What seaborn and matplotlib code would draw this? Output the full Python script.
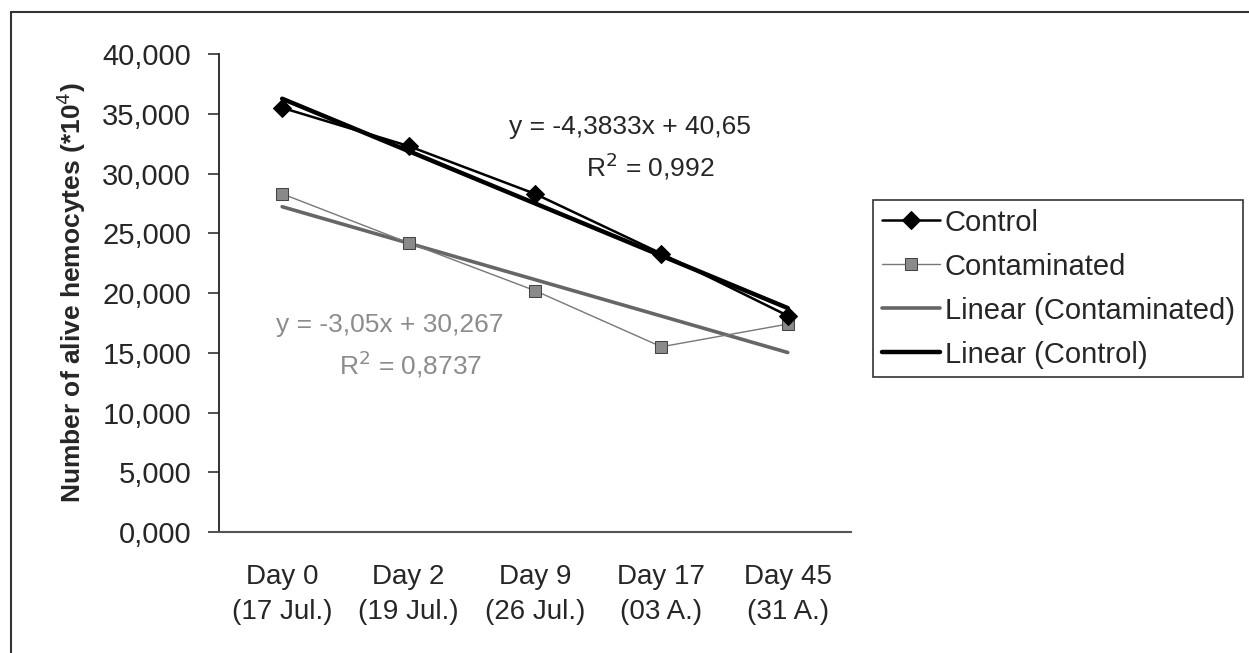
import numpy as np
import pandas as pd
import matplotlib
matplotlib.use("Agg")
import matplotlib.pyplot as plt
import matplotlib.patches as mpatches
import seaborn as sns

# data (values in *10^4, comma decimals on the axis)
days = ["Day 0\n(17 Jul.)", "Day 2\n(19 Jul.)", "Day 9\n(26 Jul.)",
        "Day 17\n(03 A.)", "Day 45\n(31 A.)"]
control = [35.5, 32.3, 28.3, 23.3, 18.1]
contaminated = [28.3, 24.2, 20.2, 15.5, 17.4]
eq_control = ["y = -4,3833x + 40,65", "R$^2$ = 0,992"]
eq_contam = ["y = -3,05x + 30,267", "R$^2$ = 0,8737"]

df = pd.DataFrame({"pos": np.arange(len(days)), "control": control,
                   "contaminated": contaminated})

sns.set_style("white")
plt.rcParams["font.family"] = ["Liberation Sans", "DejaVu Sans"]

fig = plt.figure(figsize=(12.49, 6.53), dpi=100)
ax = fig.add_axes([0.1753, 0.1853, 0.506, 0.732])

# outer chart frame (only left and top edge visible in the scan)
fig.patches.append(mpatches.Rectangle((0.009, -0.1), 1.2, 1.082,
                                      transform=fig.transFigure, fill=False,
                                      edgecolor="#333333", linewidth=1.5))

sns.regplot(data=df, x="pos", y="contaminated", ax=ax, scatter=False, ci=None,
            label="Linear (Contaminated)", line_kws=dict(color="#666666", lw=2.6))
sns.regplot(data=df, x="pos", y="control", ax=ax, scatter=False, ci=None,
            label="Linear (Control)", line_kws=dict(color="black", lw=3.2))
sns.lineplot(data=df, x="pos", y="contaminated", ax=ax, color="#777777", lw=1.0,
             marker="s", markersize=8, markerfacecolor="#8a8a8a",
             markeredgecolor="#444444", label="Contaminated")
sns.lineplot(data=df, x="pos", y="control", ax=ax, color="black", lw=1.8,
             marker="D", markersize=9, markeredgecolor="black",
             label="Control")

ax.set_xlim(-0.5, len(days) - 0.5)
ax.set_ylim(0, 40)
ax.set_yticks(np.arange(0, 40.1, 5))
ax.set_yticklabels([f"{v:.3f}".replace(".", ",") for v in np.arange(0, 40.1, 5)])
ax.set_xticks(df["pos"])
ax.set_xticklabels(days, linespacing=1.45)
ax.set_xticks(np.arange(-0.5, len(days), 1), minor=True)
ax.tick_params(axis="x", which="major", length=0, pad=23, labelsize=20)
ax.tick_params(axis="x", which="minor", length=8, width=1.2, color="#333333",
               direction="out")
ax.tick_params(axis="y", length=8, width=1.2, color="#333333", direction="out",
               pad=12, labelsize=21, left=True)
ax.set_xlabel("")
ax.set_ylabel("Number of alive hemocytes (*10$^4$)", fontsize=19,
              fontweight="bold", labelpad=10)

sns.despine(ax=ax)
ax.spines["left"].set_color("#222222")
ax.spines["left"].set_linewidth(1.3)
ax.spines["bottom"].set_color("#555555")
ax.spines["bottom"].set_linewidth(1.5)

# trend line equations
ax.text(2.75, 33.9, eq_control[0], ha="center", va="center", fontsize=19)
ax.text(2.91, 30.6, eq_control[1], ha="center", va="center", fontsize=19)
ax.text(0.85, 17.3, eq_contam[0], ha="center", va="center", fontsize=19,
        color="#8c8c8c")
ax.text(1.02, 14.0, eq_contam[1], ha="center", va="center", fontsize=19,
        color="#8c8c8c")

handles, labels = ax.get_legend_handles_labels()
order = ["Control", "Contaminated", "Linear (Contaminated)", "Linear (Control)"]
hmap = dict(zip(labels, handles))
leg = ax.legend([hmap[k] for k in order], order, loc="upper left",
                bbox_to_anchor=(0.699, 0.694), bbox_transform=fig.transFigure,
                fontsize=21, frameon=True, fancybox=False, edgecolor="#333333",
                framealpha=1, handlelength=2.0, handletextpad=0.15,
                labelspacing=0.55, borderpad=0.3, borderaxespad=0)
leg.get_frame().set_linewidth(1.2)

fig.savefig("out.png", dpi=100)
